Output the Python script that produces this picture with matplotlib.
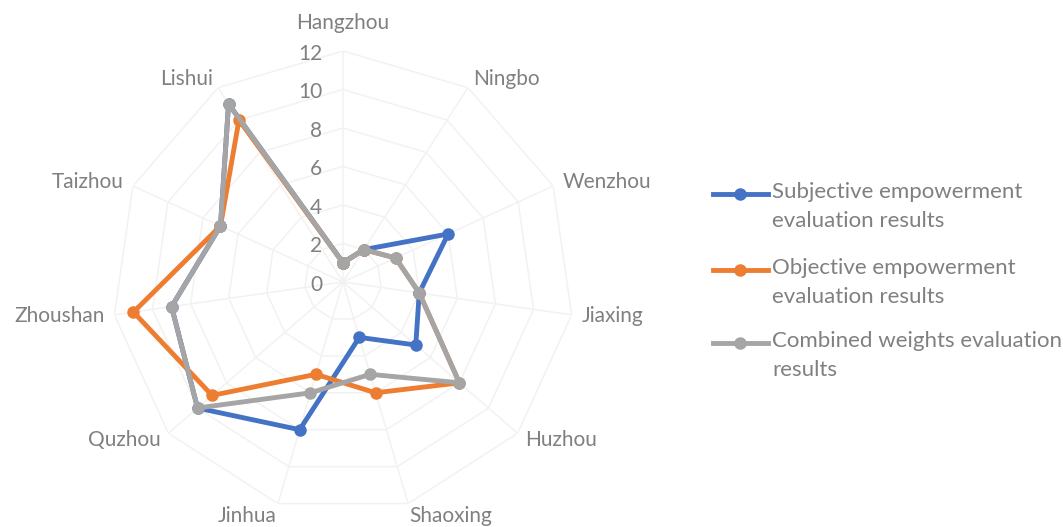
import numpy as np
import matplotlib
matplotlib.use("Agg")
import matplotlib.pyplot as plt
from matplotlib.lines import Line2D

plt.rcParams['font.family'] = ['Lato', 'DejaVu Sans']

cities = ["Hangzhou", "Ningbo", "Wenzhou", "Jiaxing", "Huzhou", "Shaoxing",
          "Jinhua", "Quzhou", "Zhoushan", "Taizhou", "Lishui"]
subjective = [1, 2, 6, 4, 5, 3, 8, 10, 9, 7, 11]
objective = [1, 2, 3, 4, 8, 6, 5, 9, 11, 7, 10]
combined = [1, 2, 3, 4, 8, 5, 6, 10, 9, 7, 11]
series_names = ["Subjective empowerment\nevaluation results",
                "Objective empowerment\nevaluation results",
                "Combined weights evaluation\nresults"]
colors = ["#4472C4", "#ED7D31", "#A5A5A5"]
r_ticks = [0, 2, 4, 6, 8, 10, 12]

txt = "#808080"
grid_c = "#F2F2F2"
fs = 15
px = 72 / 100.0  # pixels -> points

n = len(cities)
angles = np.linspace(0, 2 * np.pi, n, endpoint=False)
closed = np.append(angles, angles[0])

fig = plt.figure(figsize=(10.63, 5.27), dpi=100)
ax = fig.add_axes([0.1054, 0.0266, 0.4346, 0.8767], projection='polar')
ax.set_theta_zero_location('N')
ax.set_theta_direction(-1)
ax.set_ylim(0, 12)
ax.grid(False)
ax.spines['polar'].set_visible(False)
ax.set_xticks([])
ax.set_yticks([])
ax.patch.set_alpha(0)

# polygon grid + spokes
for r in r_ticks[1:]:
    ax.plot(closed, [r] * (n + 1), color=grid_c, lw=1.1, zorder=0)
for a in angles:
    ax.plot([a, a], [0, r_ticks[-1]], color=grid_c, lw=1.1, zorder=0)

# radial tick labels
for r in r_ticks:
    ax.annotate(str(r), xy=(0, r), xytext=(-15, -2), textcoords='offset points',
                ha='right', va='center', color=txt, fontsize=fs, annotation_clip=False)

# category labels
for a, name in zip(angles, cities):
    s, c = np.sin(a), np.cos(a)
    ha = 'center' if abs(s) < 0.1 else ('left' if s > 0 else 'right')
    va = 'bottom' if c > 0.95 else ('top' if c < -0.9 else 'center')
    d = {'bottom': 18, 'top': 3, 'center': 10}[va]
    ax.annotate(name, xy=(a, r_ticks[-1]), xytext=(s * d * px, c * d * px),
                textcoords='offset points', ha=ha, va=va, color=txt, fontsize=fs,
                annotation_clip=False)

# data series
for vals, col in zip([subjective, objective, combined], colors):
    v = np.append(vals, vals[0])
    ax.plot(closed, v, color=col, lw=3.5, marker='o', markersize=8,
            solid_joinstyle='round', clip_on=False, zorder=3)

# legend (drawn manually so the key sits on the first text line)
leg_y = [194, 270, 343]
H = 527.0
W = 1063.0
for y, col, name in zip(leg_y, colors, series_names):
    yf = 1 - y / H
    fig.add_artist(Line2D([713 / W, 768 / W], [yf, yf], color=col, lw=3.5,
                          transform=fig.transFigure))
    fig.add_artist(Line2D([740 / W], [yf], color=col, marker='o', markersize=8,
                          transform=fig.transFigure))
    fig.text(772 / W, 1 - (y - 12) / H, name, ha='left', va='top', color=txt,
             fontsize=16, linespacing=1.55)

fig.savefig("out.png", dpi=100)
